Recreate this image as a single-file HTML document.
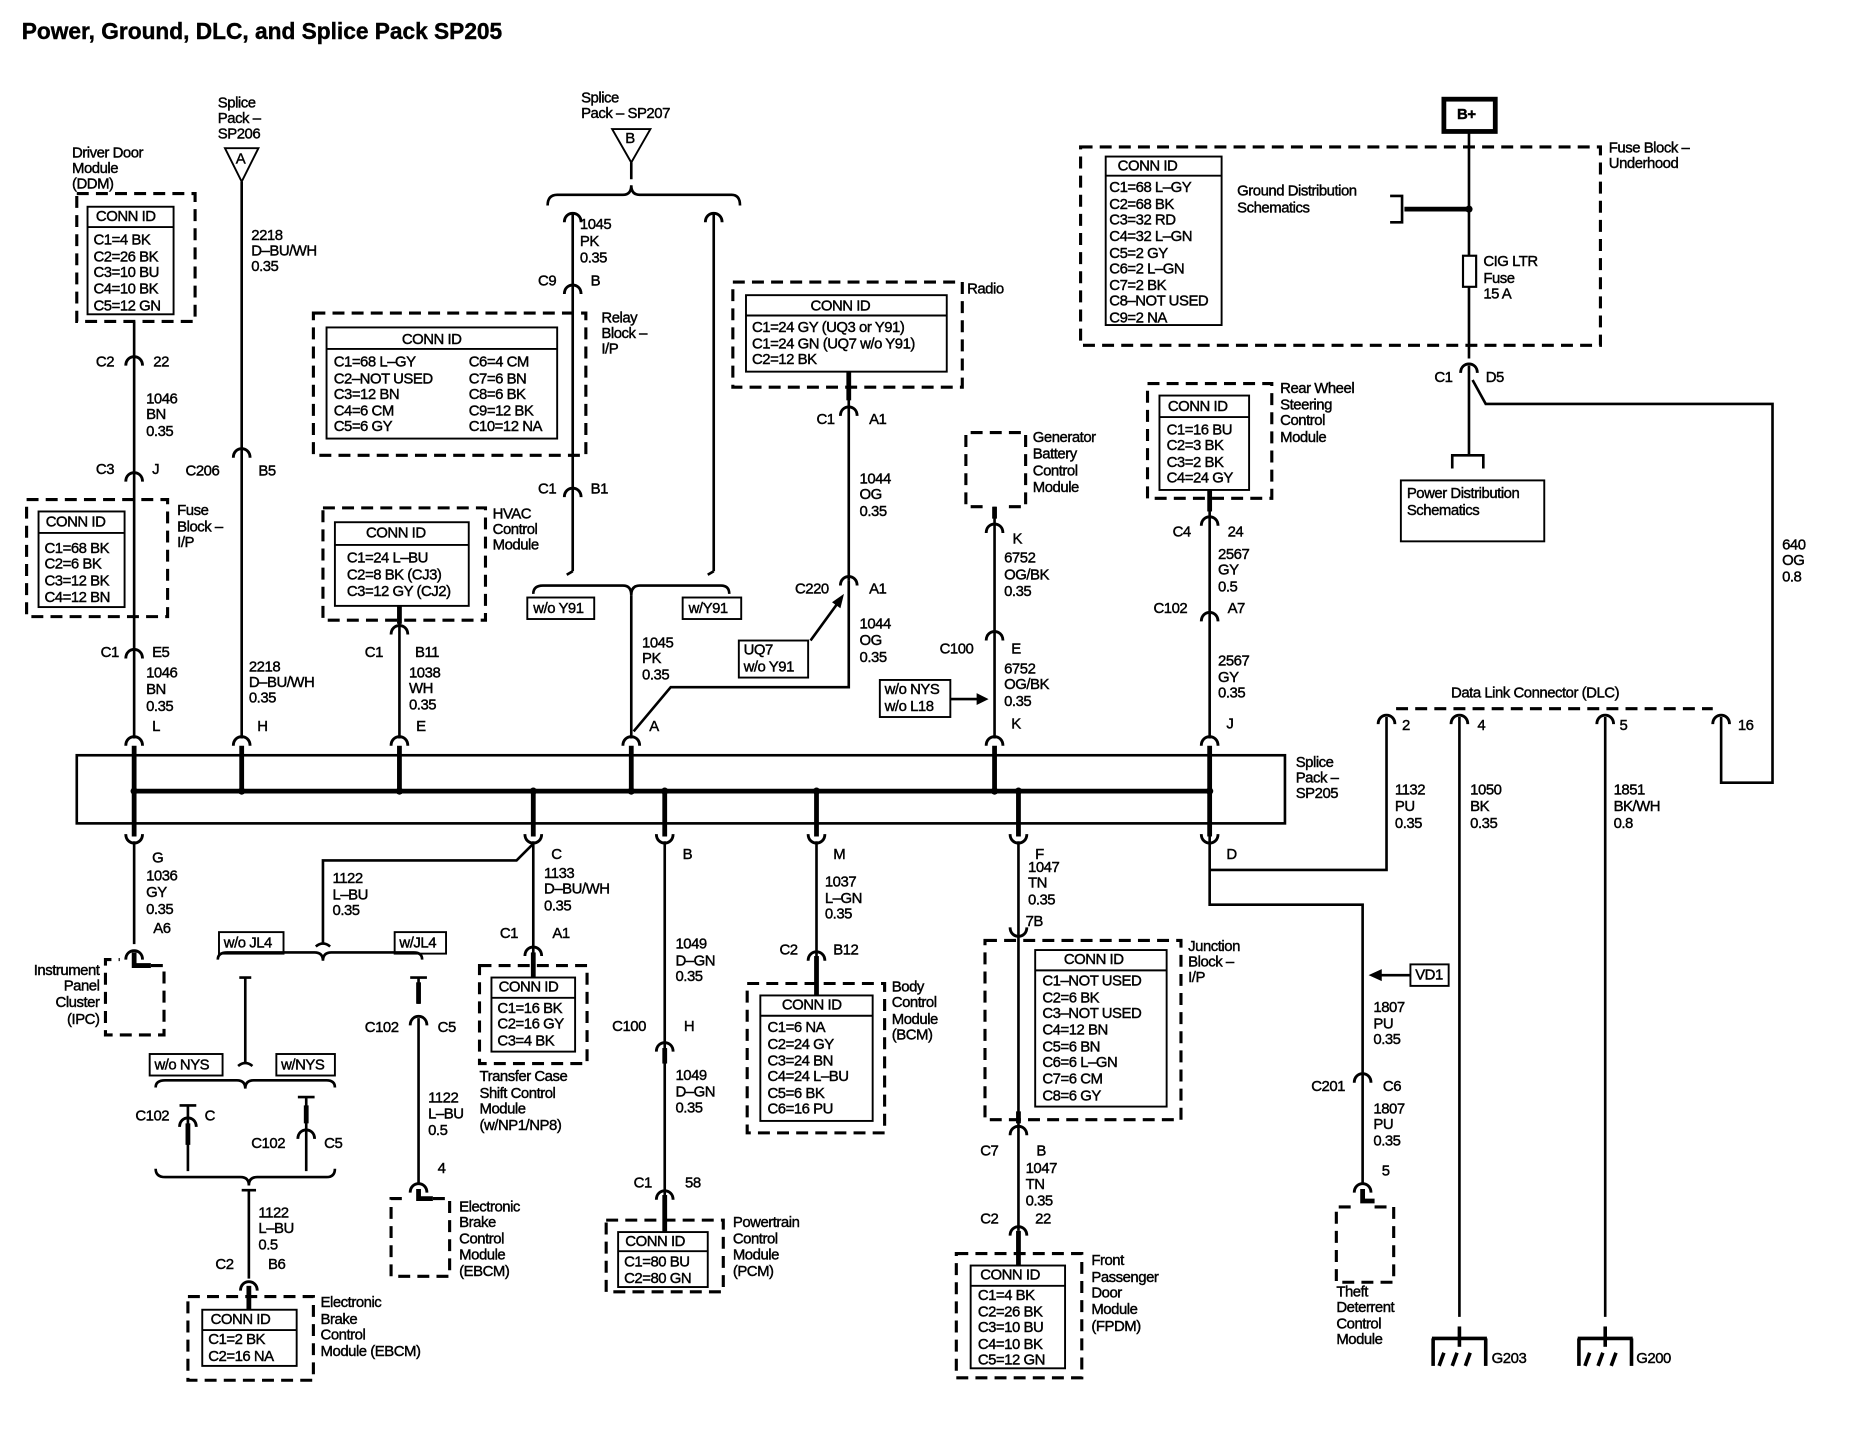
<!DOCTYPE html>
<html><head><meta charset="utf-8"><style>
html,body{margin:0;padding:0;background:#fff}
svg{display:block}
text{font-family:"Liberation Sans",Arial,sans-serif;font-size:12.5px;fill:#000;stroke:#000;stroke-width:0.35;dominant-baseline:central;letter-spacing:-0.4px}
.b{font-weight:bold}
.w{stroke:#000;stroke-width:2.2;fill:none}
.t{stroke:#000;stroke-width:1.6;fill:none}
.d{stroke:#000;stroke-width:2.6;fill:none;stroke-dasharray:10 6}
.k{stroke:#000;stroke-width:4;fill:none}
</style></head><body>
<svg width="1872" height="1440" viewBox="0 0 1566 1205" xmlns="http://www.w3.org/2000/svg">
<defs>
<path id="cu" d="M-7,6 C-7,-4 7,-4 7,6" stroke="#000" stroke-width="2.4" fill="none"/>
<path id="cd" d="M-7,-6 C-7,4 7,4 7,-6" stroke="#000" stroke-width="2.4" fill="none"/>
</defs>
<text x="18" y="26" class="b" style="font-size:19px;letter-spacing:0">Power, Ground, DLC, and Splice Pack SP205</text>

<!-- splice pack -->
<rect x="64" y="632" width="1011" height="57" class="w" stroke-width="2.6"/>
<line x1="112" y1="662" x2="1013" y2="662" class="k"/>
<text x="1084" y="638">Splice</text><text x="1084" y="651">Pack –</text><text x="1084" y="664">SP205</text>
<g fill="#000">
<circle cx="112" cy="662" r="3"/><circle cx="202" cy="662" r="3"/><circle cx="334" cy="662" r="3"/><circle cx="446" cy="662" r="3"/><circle cx="528" cy="662" r="3"/><circle cx="556" cy="662" r="3"/><circle cx="683" cy="662" r="3"/><circle cx="832" cy="662" r="3"/><circle cx="852" cy="662" r="3"/><circle cx="1012" cy="662" r="3"/>
</g>
<g class="k">
<path d="M112 624V700M202 624V662M334 624V662M528 624V662M832 624V662M1012 624V700M446 662V700M556 662V700M683 662V700M852 662V700"/>
</g>

<!-- DDM -->
<rect x="64" y="162" width="99" height="107" class="d"/>
<rect x="73" y="173" width="72" height="90" class="t" stroke-width="2.2"/>
<line x1="73" y1="190" x2="145" y2="190" class="t"/>
<text x="80" y="181">CONN ID</text>
<text x="78" y="201">C1=4 BK</text><text x="78" y="215">C2=26 BK</text><text x="78" y="228">C3=10 BU</text><text x="78" y="242">C4=10 BK</text><text x="78" y="256">C5=12 GN</text>
<text x="60" y="128">Driver Door</text><text x="60" y="141">Module</text><text x="60" y="154">(DDM)</text>
<path d="M112 269V618" class="w"/>
<use href="#cu" x="112" y="300"/><use href="#cu" x="112" y="397"/><use href="#cu" x="112" y="545"/><use href="#cu" x="112" y="618"/>
<text x="80" y="303">C2</text><text x="128" y="303">22</text>
<text x="122" y="334">1046</text><text x="122" y="347">BN</text><text x="122" y="361">0.35</text>
<text x="80" y="393">C3</text><text x="127" y="393">J</text>
<rect x="22" y="418" width="118" height="98" class="d"/>
<rect x="32" y="428" width="72" height="80" class="t" stroke-width="2.2"/>
<line x1="32" y1="446" x2="104" y2="446" class="t"/>
<text x="38" y="437">CONN ID</text>
<text x="37" y="459">C1=68 BK</text><text x="37" y="472">C2=6 BK</text><text x="37" y="486">C3=12 BK</text><text x="37" y="500">C4=12 BN</text>
<text x="148" y="427">Fuse</text><text x="148" y="441">Block –</text><text x="148" y="454">I/P</text>
<text x="84" y="546">C1</text><text x="127" y="546">E5</text>
<text x="122" y="563">1046</text><text x="122" y="577">BN</text><text x="122" y="591">0.35</text>
<text x="127" y="608">L</text>
<use href="#cd" x="112" y="704"/>
<path d="M112 704V790" class="w"/><use href="#cu" x="112" y="797"/>
<path d="M112 797V808h14" class="k"/>
<text x="127" y="718">G</text>
<text x="122" y="733">1036</text><text x="122" y="747">GY</text><text x="122" y="761">0.35</text><text x="128" y="777">A6</text>
<path d="M126 808h11v58h-49v-63h12" class="d"/>
<text x="83" y="812" text-anchor="end">Instrument</text><text x="83" y="825" text-anchor="end">Panel</text><text x="83" y="839" text-anchor="end">Cluster</text><text x="83" y="853" text-anchor="end">(IPC)</text>

<!-- SP206 -->
<text x="182" y="86">Splice</text><text x="182" y="99">Pack –</text><text x="182" y="112">SP206</text>
<path d="M188 124H216L202 152Z" class="t" stroke-width="2"/><text x="197" y="133">A</text>
<path d="M202 152V618" class="w"/>
<text x="210" y="197">2218</text><text x="210" y="210">D–BU/WH</text><text x="210" y="223">0.35</text>
<use href="#cu" x="202" y="377"/><text x="155" y="394">C206</text><text x="216" y="394">B5</text>
<use href="#cu" x="202" y="618"/>
<text x="208" y="558">2218</text><text x="208" y="571">D–BU/WH</text><text x="208" y="584">0.35</text><text x="215" y="608">H</text>

<!-- HVAC -->
<rect x="270" y="425" width="136" height="94" class="d"/>
<rect x="280" y="437" width="112" height="70" class="t" stroke-width="2.2"/>
<line x1="280" y1="456" x2="392" y2="456" class="t"/>
<text x="306" y="446">CONN ID</text>
<text x="290" y="467">C1=24 L–BU</text><text x="290" y="481">C2=8 BK (CJ3)</text><text x="290" y="495">C3=12 GY (CJ2)</text>
<text x="412" y="430">HVAC</text><text x="412" y="443">Control</text><text x="412" y="456">Module</text>
<path d="M334 507V618" class="w"/><path d="M334 507V522" class="k"/>
<use href="#cu" x="334" y="525"/><use href="#cu" x="334" y="618"/>
<text x="305" y="546">C1</text><text x="347" y="546">B11</text>
<text x="342" y="563">1038</text><text x="342" y="576">WH</text><text x="342" y="590">0.35</text><text x="348" y="608">E</text>

<!-- Relay Block -->
<rect x="262" y="262" width="228" height="119" class="d"/>
<rect x="273" y="274" width="193" height="93" class="t" stroke-width="2.2"/>
<line x1="273" y1="292" x2="466" y2="292" class="t"/>
<text x="336" y="284">CONN ID</text>
<text x="279" y="303">C1=68 L–GY</text><text x="279" y="317">C2–NOT USED</text><text x="279" y="330">C3=12 BN</text><text x="279" y="344">C4=6 CM</text><text x="279" y="357">C5=6 GY</text>
<text x="392" y="303">C6=4 CM</text><text x="392" y="317">C7=6 BN</text><text x="392" y="330">C8=6 BK</text><text x="392" y="344">C9=12 BK</text><text x="392" y="357">C10=12 NA</text>
<text x="503" y="266">Relay</text><text x="503" y="279">Block –</text><text x="503" y="292">I/P</text>

<!-- SP207 -->
<text x="486" y="82">Splice</text><text x="486" y="95">Pack – SP207</text>
<path d="M512 108H544L528 136Z" class="t" stroke-width="2"/><text x="523" y="116">B</text>
<path d="M528 136V150" class="w"/>
<path d="M458 172Q458 163 466 163H521Q528 163 528 155Q528 163 535 163H612Q619 163 619 172" class="w"/>
<use href="#cu" x="479" y="180"/><use href="#cu" x="597" y="180"/>
<path d="M479 178V478M597 178V478" class="w"/>
<text x="485" y="188">1045</text><text x="485" y="202">PK</text><text x="485" y="216">0.35</text>
<use href="#cu" x="479" y="240"/><text x="450" y="235">C9</text><text x="494" y="235">B</text>
<use href="#cu" x="479" y="410"/><text x="450" y="409">C1</text><text x="494" y="409">B1</text>
<path d="M479 478l-5 3M597 478l-5 3" class="w"/>
<path d="M446 497Q446 490 454 490H521Q528 490 528 498Q528 490 535 490H603Q610 490 610 497" class="w"/>
<rect x="441" y="500" width="56" height="18" class="t" stroke-width="2.2"/><text x="446" y="509">w/o Y91</text>
<rect x="571" y="500" width="49" height="18" class="t" stroke-width="2.2"/><text x="576" y="509">w/Y91</text>
<path d="M528 498V618" class="w"/><use href="#cu" x="528" y="618"/>
<text x="537" y="538">1045</text><text x="537" y="551">PK</text><text x="537" y="565">0.35</text><text x="543" y="608">A</text>
<path d="M530 612L561 575H710V486" class="w"/>
<rect x="618" y="536" width="58" height="31" class="t" stroke-width="2.2"/>
<text x="622" y="544">UQ7</text><text x="622" y="558">w/o Y91</text>
<path d="M678 536L702 503" class="w"/><path d="M706 497l-3 12-7-5z" fill="#000"/>

<!-- Radio -->
<rect x="613" y="236" width="192" height="88" class="d"/>
<rect x="624" y="247" width="168" height="64" class="t" stroke-width="2.2"/>
<line x1="624" y1="264" x2="792" y2="264" class="t"/>
<text x="678" y="256">CONN ID</text>
<text x="629" y="274">C1=24 GY (UQ3 or Y91)</text><text x="629" y="288">C1=24 GN (UQ7 w/o Y91)</text><text x="629" y="301">C2=12 BK</text>
<text x="809" y="242">Radio</text>
<path d="M710 311V486" class="w"/><path d="M710 311V335" class="k"/>
<use href="#cu" x="710" y="342"/><text x="683" y="351">C1</text><text x="727" y="351">A1</text>
<text x="719" y="401">1044</text><text x="719" y="414">OG</text><text x="719" y="428">0.35</text>
<use href="#cu" x="710" y="484"/><text x="665" y="493">C220</text><text x="727" y="493">A1</text>
<text x="719" y="522">1044</text><text x="719" y="536">OG</text><text x="719" y="550">0.35</text>

<!-- Generator -->
<path d="M822 424h-14v-62h50v62h-14" class="d"/>
<text x="864" y="366">Generator</text><text x="864" y="380">Battery</text><text x="864" y="394">Control</text><text x="864" y="408">Module</text>
<path d="M832 424V618" class="w"/><path d="M832 424V434" class="k"/>
<use href="#cu" x="832" y="440"/><text x="847" y="451">K</text>
<text x="840" y="467">6752</text><text x="840" y="481">OG/BK</text><text x="840" y="495">0.35</text>
<use href="#cu" x="832" y="530"/><text x="786" y="543">C100</text><text x="846" y="543">E</text>
<text x="840" y="560">6752</text><text x="840" y="573">OG/BK</text><text x="840" y="587">0.35</text>
<use href="#cu" x="832" y="618"/><text x="846" y="606">K</text>
<rect x="736" y="569" width="59" height="31" class="t" stroke-width="2.2"/>
<text x="740" y="577">w/o NYS</text><text x="740" y="591">w/o L18</text>
<path d="M795 585H818" class="w"/><path d="M827 585l-10-5v10z" fill="#000"/>

<!-- Rear Wheel Steering -->
<rect x="960" y="321" width="104" height="96" class="d"/>
<rect x="970" y="331" width="75" height="79" class="t" stroke-width="2.2"/>
<line x1="970" y1="349" x2="1045" y2="349" class="t"/>
<text x="977" y="340">CONN ID</text>
<text x="976" y="360">C1=16 BU</text><text x="976" y="373">C2=3 BK</text><text x="976" y="387">C3=2 BK</text><text x="976" y="400">C4=24 GY</text>
<text x="1071" y="325">Rear Wheel</text><text x="1071" y="339">Steering</text><text x="1071" y="352">Control</text><text x="1071" y="366">Module</text>
<path d="M1012 410V618" class="w"/><path d="M1012 410V428" class="k"/>
<use href="#cu" x="1012" y="434"/><text x="981" y="445">C4</text><text x="1027" y="445">24</text>
<text x="1019" y="464">2567</text><text x="1019" y="477">GY</text><text x="1019" y="491">0.5</text>
<use href="#cu" x="1012" y="514"/><text x="965" y="509">C102</text><text x="1027" y="509">A7</text>
<text x="1019" y="553">2567</text><text x="1019" y="567">GY</text><text x="1019" y="580">0.35</text>
<use href="#cu" x="1012" y="618"/><text x="1026" y="606">J</text>

<!-- Fuse Block Underhood -->
<rect x="904" y="123" width="435" height="166" class="d"/>
<rect x="925" y="131" width="97" height="141" class="t" stroke-width="2.2"/>
<line x1="925" y1="147" x2="1022" y2="147" class="t"/>
<text x="935" y="139">CONN ID</text>
<text x="928" y="157">C1=68 L–GY</text><text x="928" y="171">C2=68 BK</text><text x="928" y="184">C3=32 RD</text><text x="928" y="198">C4=32 L–GN</text><text x="928" y="212">C5=2 GY</text><text x="928" y="225">C6=2 L–GN</text><text x="928" y="239">C7=2 BK</text><text x="928" y="252">C8–NOT USED</text><text x="928" y="266">C9=2 NA</text>
<text x="1346" y="124">Fuse Block –</text><text x="1346" y="137">Underhood</text>
<rect x="1208" y="83" width="43" height="27" stroke="#000" stroke-width="4" fill="#fff"/>
<text x="1219" y="96" class="b">B+</text>
<path d="M1229 110V300" class="w"/>
<circle cx="1229" cy="175" r="3" fill="#000"/>
<path d="M1229 175H1175" class="k"/><path d="M1163 164h10v22h-10" class="w"/>
<text x="1035" y="160">Ground Distribution</text><text x="1035" y="174">Schematics</text>
<rect x="1224" y="214" width="11" height="26" fill="#fff" stroke="#000" stroke-width="1.8"/>
<text x="1241" y="219">CIG LTR</text><text x="1241" y="233">Fuse</text><text x="1241" y="246">15 A</text>
<use href="#cu" x="1229" y="306"/><text x="1200" y="316">C1</text><text x="1243" y="316">D5</text>
<path d="M1229 306V381M1215 392V381H1241V392" class="w"/>
<rect x="1172" y="402" width="120" height="51" class="t" stroke-width="2.2"/>
<text x="1177" y="413">Power Distribution</text><text x="1177" y="427">Schematics</text>
<path d="M1232 318L1243 338H1483V655H1440V600" class="w" stroke-width="3"/>
<text x="1491" y="456">640</text><text x="1491" y="469">OG</text><text x="1491" y="483">0.8</text>

<!-- DLC -->
<path d="M1168 593H1433" class="d" stroke-dasharray="6 5"/>
<text x="1214" y="580">Data Link Connector (DLC)</text>
<use href="#cu" x="1160" y="600"/><use href="#cu" x="1221" y="600"/><use href="#cu" x="1343" y="600"/><use href="#cu" x="1440" y="600"/>
<text x="1173" y="607">2</text><text x="1236" y="607">4</text><text x="1355" y="607">5</text><text x="1454" y="607">16</text>
<path d="M1160 600V728H1012M1012 700V757H1140V990" class="w"/>
<path d="M1221 600V1102M1343 600V1102" class="w"/>
<text x="1167" y="661">1132</text><text x="1167" y="675">PU</text><text x="1167" y="689">0.35</text>
<text x="1230" y="661">1050</text><text x="1230" y="675">BK</text><text x="1230" y="689">0.35</text>
<text x="1350" y="661">1851</text><text x="1350" y="675">BK/WH</text><text x="1350" y="689">0.8</text>
<use href="#cd" x="1012" y="704"/><text x="1026" y="715">D</text>
<rect x="1180" y="807" width="32" height="18" class="t" stroke-width="2.2"/><text x="1184" y="816">VD1</text>
<path d="M1180 816H1155" class="w"/><path d="M1145 816l11-5v10z" fill="#000"/>
<text x="1149" y="843">1807</text><text x="1149" y="857">PU</text><text x="1149" y="870">0.35</text>
<use href="#cu" x="1140" y="900"/><text x="1097" y="909">C201</text><text x="1157" y="909">C6</text>
<text x="1149" y="928">1807</text><text x="1149" y="941">PU</text><text x="1149" y="955">0.35</text>
<use href="#cu" x="1140" y="992"/><text x="1156" y="980">5</text>
<path d="M1140 995V1005h10" class="k"/>
<path d="M1150 1010h16v63h-48v-63h12" class="d"/>
<text x="1118" y="1081">Theft</text><text x="1118" y="1094">Deterrent</text><text x="1118" y="1108">Control</text><text x="1118" y="1121">Module</text>
<g stroke="#000" stroke-width="3" fill="none">
<line x1="1221" y1="1110" x2="1221" y2="1127"/>
<line x1="1343" y1="1110" x2="1343" y2="1127"/>
<line x1="1198" y1="1120" x2="1244" y2="1120"/>
<line x1="1199" y1="1120" x2="1199" y2="1143"/>
<line x1="1243" y1="1120" x2="1243" y2="1143"/>
<line x1="1320" y1="1120" x2="1366" y2="1120"/>
<line x1="1321" y1="1120" x2="1321" y2="1143"/>
<line x1="1365" y1="1120" x2="1365" y2="1143"/>
<path d="M1204 1143l4-11M1215 1143l4-11M1226 1143l4-11"/>
<path d="M1326 1143l4-11M1337 1143l4-11M1348 1143l4-11"/>
</g>
<text x="1248" y="1137">G203</text><text x="1369" y="1137">G200</text>

<!-- bottom 446 -->
<use href="#cd" x="446" y="704"/><text x="461" y="715">C</text>
<path d="M446 704V800" class="w"/>
<path d="M446 706L432 720H270V790" class="w"/>
<text x="455" y="731">1133</text><text x="455" y="744">D–BU/WH</text><text x="455" y="758">0.35</text>
<text x="278" y="735">1122</text><text x="278" y="749">L–BU</text><text x="278" y="762">0.35</text>
<path d="M264 792Q270 787 276 792" class="w"/>
<path d="M182 803Q182 797 190 797H263Q270 797 270 804Q270 797 277 797H346Q353 797 353 803" class="w"/>
<rect x="183" y="780" width="54" height="18" fill="#fff" class="t" stroke-width="2.2"/><text x="187" y="789">w/o JL4</text>
<rect x="330" y="780" width="43" height="18" fill="#fff" class="t" stroke-width="2.2"/><text x="334" y="789">w/JL4</text>
<path d="M200 818h10M205 818V890" class="w"/>
<path d="M343 818h14M350 818V840" class="w"/><path d="M350 822V840" class="k"/>
<use href="#cu" x="350" y="852"/>
<path d="M350 852V990" class="w"/>
<text x="305" y="860">C102</text><text x="366" y="860">C5</text>
<text x="358" y="919">1122</text><text x="358" y="932">L–BU</text><text x="358" y="946">0.5</text>
<use href="#cu" x="350" y="992"/><text x="366" y="978">4</text>
<path d="M350 995V1003h12" class="k"/>
<path d="M362 1003h14v65h-49v-65h13" class="d"/>
<text x="384" y="1010">Electronic</text><text x="384" y="1023">Brake</text><text x="384" y="1037">Control</text><text x="384" y="1050">Module</text><text x="384" y="1064">(EBCM)</text>
<path d="M199 892Q205 887 211 892" class="w"/>
<path d="M130 910Q130 904 138 904H198Q205 904 205 911Q205 904 212 904H273Q280 904 280 910" class="w"/>
<rect x="125" y="882" width="61" height="18" fill="#fff" class="t" stroke-width="2.2"/><text x="129" y="891">w/o NYS</text>
<rect x="231" y="882" width="49" height="18" fill="#fff" class="t" stroke-width="2.2"/><text x="235" y="891">w/NYS</text>
<path d="M150 925h14M157 925V980M249 918h14M256 918V980" class="w"/>
<path d="M157 940V958M256 925V940" class="k"/>
<use href="#cu" x="157" y="937"/><use href="#cu" x="256" y="947"/>
<text x="113" y="934">C102</text><text x="171" y="934">C</text>
<text x="210" y="957">C102</text><text x="271" y="957">C5</text>
<path d="M130 978Q130 985 138 985H201Q208 985 208 992Q208 985 215 985H273Q280 985 280 978" class="w"/>
<path d="M202 996h12M208 996V1070" class="w"/>
<text x="216" y="1015">1122</text><text x="216" y="1028">L–BU</text><text x="216" y="1042">0.5</text>
<use href="#cu" x="208" y="1074"/><text x="180" y="1058">C2</text><text x="224" y="1058">B6</text>
<path d="M208 1076V1096" class="k"/>
<rect x="157" y="1085" width="105" height="70" class="d"/>
<rect x="169" y="1096" width="79" height="47" class="t" stroke-width="2.2"/>
<line x1="169" y1="1113" x2="248" y2="1113" class="t"/>
<text x="176" y="1104">CONN ID</text>
<text x="174" y="1121">C1=2 BK</text><text x="174" y="1135">C2=16 NA</text>
<text x="268" y="1090">Electronic</text><text x="268" y="1104">Brake</text><text x="268" y="1117">Control</text><text x="268" y="1131">Module (EBCM)</text>

<!-- Transfer Case -->
<use href="#cu" x="446" y="794"/><text x="418" y="781">C1</text><text x="462" y="781">A1</text>
<path d="M446 797V818" class="k"/>
<rect x="401" y="808" width="90" height="82" class="d"/>
<rect x="411" y="818" width="70" height="62" class="t" stroke-width="2.2"/>
<line x1="411" y1="835" x2="481" y2="835" class="t"/>
<text x="417" y="826">CONN ID</text>
<text x="416" y="844">C1=16 BK</text><text x="416" y="857">C2=16 GY</text><text x="416" y="871">C3=4 BK</text>
<text x="401" y="901">Transfer Case</text><text x="401" y="915">Shift Control</text><text x="401" y="928">Module</text><text x="401" y="942">(w/NP1/NP8)</text>

<!-- PCM 556 -->
<use href="#cd" x="556" y="704"/><text x="571" y="715">B</text>
<path d="M556 704V1015" class="w"/>
<text x="565" y="790">1049</text><text x="565" y="804">D–GN</text><text x="565" y="817">0.35</text>
<use href="#cu" x="556" y="874"/><path d="M556 877V890" class="k"/>
<text x="512" y="859">C100</text><text x="572" y="859">H</text>
<text x="565" y="900">1049</text><text x="565" y="914">D–GN</text><text x="565" y="927">0.35</text>
<use href="#cu" x="556" y="998"/><path d="M556 1000V1031" class="k"/>
<text x="530" y="990">C1</text><text x="573" y="990">58</text>
<rect x="507" y="1021" width="98" height="60" class="d"/>
<rect x="517" y="1031" width="75" height="46" class="t" stroke-width="2.2"/>
<line x1="517" y1="1047" x2="592" y2="1047" class="t"/>
<text x="523" y="1039">CONN ID</text>
<text x="522" y="1056">C1=80 BU</text><text x="522" y="1070">C2=80 GN</text>
<text x="613" y="1023">Powertrain</text><text x="613" y="1037">Control</text><text x="613" y="1050">Module</text><text x="613" y="1064">(PCM)</text>

<!-- BCM 683 -->
<use href="#cd" x="683" y="704"/><text x="697" y="715">M</text>
<path d="M683 704V800" class="w"/>
<text x="690" y="738">1037</text><text x="690" y="752">L–GN</text><text x="690" y="765">0.35</text>
<use href="#cu" x="683" y="798"/><path d="M683 800V833" class="k"/>
<text x="652" y="795">C2</text><text x="697" y="795">B12</text>
<rect x="625" y="823" width="115" height="125" class="d"/>
<rect x="636" y="833" width="94" height="105" class="t" stroke-width="2.2"/>
<line x1="636" y1="850" x2="730" y2="850" class="t"/>
<text x="654" y="841">CONN ID</text>
<text x="642" y="860">C1=6 NA</text><text x="642" y="874">C2=24 GY</text><text x="642" y="888">C3=24 BN</text><text x="642" y="901">C4=24 L–BU</text><text x="642" y="915">C5=6 BK</text><text x="642" y="928">C6=16 PU</text>
<text x="746" y="826">Body</text><text x="746" y="839">Control</text><text x="746" y="853">Module</text><text x="746" y="866">(BCM)</text>

<!-- 852 -->
<use href="#cd" x="852" y="704"/><text x="866" y="715">F</text>
<path d="M852 704V1030" class="w"/>
<text x="860" y="726">1047</text><text x="860" y="739">TN</text><text x="860" y="753">0.35</text><text x="858" y="771">7B</text>
<use href="#cd" x="852" y="782"/>
<rect x="824" y="787" width="164" height="150" class="d"/>
<rect x="866" y="795" width="110" height="131" class="t" stroke-width="2.2"/>
<line x1="866" y1="812" x2="976" y2="812" class="t"/>
<text x="890" y="803">CONN ID</text>
<text x="872" y="821">C1–NOT USED</text><text x="872" y="835">C2=6 BK</text><text x="872" y="848">C3–NOT USED</text><text x="872" y="862">C4=12 BN</text><text x="872" y="876">C5=6 BN</text><text x="872" y="889">C6=6 L–GN</text><text x="872" y="903">C7=6 CM</text><text x="872" y="917">C8=6 GY</text>
<text x="994" y="792">Junction</text><text x="994" y="805">Block –</text><text x="994" y="818">I/P</text>
<path d="M852 930V940" class="k"/>
<use href="#cu" x="852" y="944"/><text x="820" y="963">C7</text><text x="867" y="963">B</text>
<text x="858" y="978">1047</text><text x="858" y="991">TN</text><text x="858" y="1005">0.35</text>
<use href="#cu" x="852" y="1028"/><path d="M852 1030V1059" class="k"/>
<text x="820" y="1020">C2</text><text x="866" y="1020">22</text>
<rect x="800" y="1049" width="105" height="104" class="d"/>
<rect x="812" y="1059" width="79" height="86" class="t" stroke-width="2.2"/>
<line x1="812" y1="1076" x2="891" y2="1076" class="t"/>
<text x="820" y="1067">CONN ID</text>
<text x="818" y="1084">C1=4 BK</text><text x="818" y="1098">C2=26 BK</text><text x="818" y="1111">C3=10 BU</text><text x="818" y="1125">C4=10 BK</text><text x="818" y="1138">C5=12 GN</text>
<text x="913" y="1055">Front</text><text x="913" y="1069">Passenger</text><text x="913" y="1082">Door</text><text x="913" y="1096">Module</text><text x="913" y="1110">(FPDM)</text>
</svg>
</body></html>
